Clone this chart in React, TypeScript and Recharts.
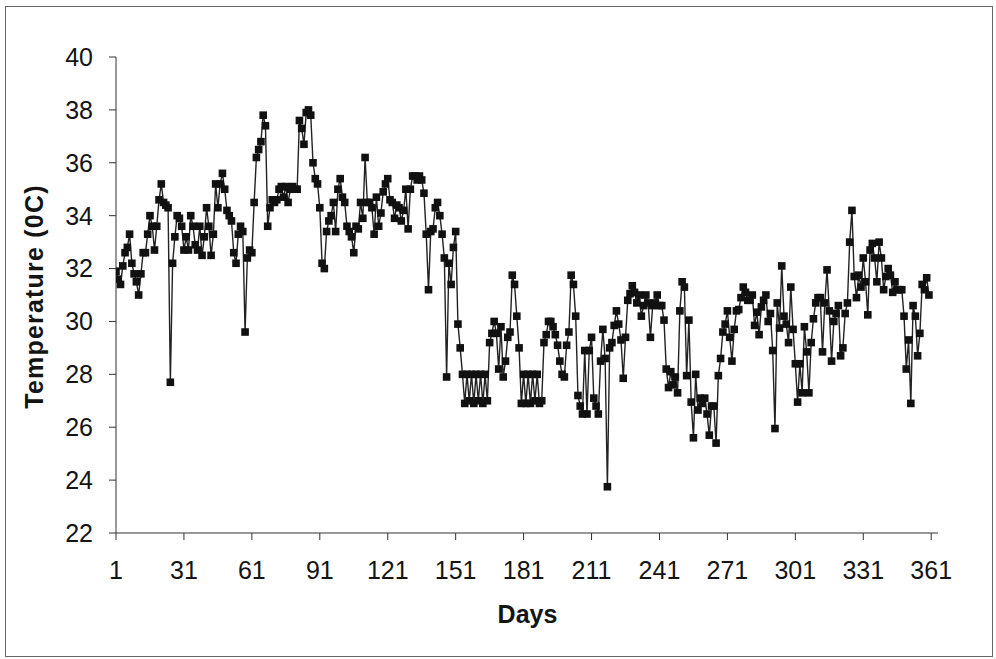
import { LineChart, Line, XAxis, YAxis } from 'recharts';

// daily temperature readings (0C), day 1 onwards
const temps = [
  31.9, 31.6, 31.4, 32.1, 32.6, 32.8, 33.3, 32.2, 31.8, 31.5,
  31.0, 31.8, 32.6, 32.6, 33.3, 34.0, 33.6, 32.7, 33.6, 34.6,
  35.2, 34.5, 34.4, 34.3, 27.7, 32.2, 33.2, 34.0, 33.9, 33.6,
  32.7, 33.2, 32.7, 34.0, 33.6, 32.9, 32.7, 33.6, 32.5, 33.2,
  34.3, 33.6, 32.5, 33.3, 35.2, 34.3, 35.2, 35.6, 35.0, 34.2,
  34.0, 33.8, 32.6, 32.2, 33.3, 33.6, 33.4, 29.6, 32.4, 32.7,
  32.6, 34.5, 36.2, 36.5, 36.8, 37.8, 37.4, 33.6, 34.3, 34.6,
  34.5, 34.6, 35.0, 35.1, 34.7, 35.1, 34.5, 35.0, 35.1, 35.0,
  35.0, 37.6, 37.3, 36.7, 37.9, 38.0, 37.8, 36.0, 35.4, 35.2,
  34.3, 32.2, 32.0, 33.4, 33.8, 34.0, 34.5, 33.4, 35.0, 35.4,
  34.7, 34.5, 33.6, 33.4, 33.2, 32.6, 33.6, 33.5, 34.5, 33.9,
  36.2, 34.5, 34.5, 34.3, 33.3, 34.7, 33.6, 34.1, 34.9, 35.2,
  35.4, 34.6, 34.5, 33.9, 34.4, 34.3, 33.8, 34.2, 35.0, 33.5,
  35.0, 35.5, 35.5, 35.35, 35.5, 35.35, 34.85, 33.3, 31.2, 33.4,
  33.5, 34.3, 34.5, 34.0, 33.3, 32.4, 27.9, 32.2, 31.4, 32.8,
  33.4, 29.9, 29.0, 28.0, 26.9, 28.0, 27.0, 28.0, 26.9, 28.0,
  27.0, 28.0, 26.9, 28.0, 27.0, 29.2, 29.55, 30.0, 29.55, 28.2,
  29.8, 27.9, 28.5, 29.4, 29.6, 31.75, 31.4, 30.2, 29.0, 26.9,
  28.0, 26.9, 28.0, 26.9, 28.0, 27.0, 28.0, 26.9, 27.0, 29.2,
  29.5, 30.0, 30.0, 29.8, 29.5, 29.1, 28.5, 28.0, 27.9, 29.1,
  29.6, 31.75, 31.4, 30.2, 27.2, 26.8, 26.5, 28.9, 26.5, 28.9,
  29.4, 27.1, 26.8, 26.5, 28.5, 29.7, 28.6, 23.75, 29.0, 29.2,
  29.85, 30.4, 29.9, 29.3, 27.85, 29.4, 30.8, 31.05, 31.35, 31.1,
  30.7, 31.0, 30.2, 30.6, 31.0, 30.7, 29.4, 30.6, 30.7, 31.0,
  30.6, 30.6, 30.05, 28.2, 27.5, 28.1, 27.6, 27.9, 27.3, 30.4,
  31.5, 31.3, 27.95, 30.05, 26.95, 25.6, 28.0, 26.65, 27.1, 26.9,
  27.1, 26.5, 25.7, 26.8, 26.8, 25.4, 27.95, 28.6, 29.6, 29.9,
  30.4, 29.4, 28.5, 29.7, 30.4, 30.45, 30.9, 31.3, 31.1, 30.8,
  30.8, 31.0, 29.85, 30.35, 29.5, 30.55, 30.8, 31.0, 30.0, 30.3,
  28.9, 25.95, 30.7, 29.75, 32.1, 30.2, 29.9, 29.2, 31.3, 29.7,
  28.4, 26.95, 28.4, 27.3, 29.8, 28.85, 27.3, 29.2, 30.1, 30.7,
  30.9, 30.9, 28.85, 30.7, 31.95, 30.4, 28.5, 30.0, 30.3, 30.6,
  28.7, 29.0, 30.3, 30.7, 33.0, 34.2, 31.7, 30.9, 31.75, 31.3,
  32.4, 31.5, 30.25, 32.7, 32.95, 32.4, 31.5, 33.0, 32.4, 31.2,
  31.7, 32.0, 31.75, 31.1, 31.5, 31.2, 31.2, 31.2, 30.2, 28.2,
  29.3, 26.9, 30.6, 30.2, 28.7, 29.55, 31.4, 31.2, 31.65, 31.0,
];

const days = temps.map((_, i) => i + 1);

const dayTicks = [1, 31, 61, 91, 121, 151, 181, 211, 241, 271, 301, 331, 361];
const tempTicks = [22, 24, 26, 28, 30, 32, 34, 36, 38, 40];

const data = days.map((d, i) => ({ day: d, temp: temps[i] }));

const font = 'Arial, "Liberation Sans", sans-serif';
const tickStyle = { fontSize: 25, fill: '#141414', fontFamily: font };

const SquareDot = (props: any) => {
  const { cx, cy } = props;
  if (cx == null || cy == null) return null;
  return <rect x={cx - 3.8} y={cy - 3.8} width={7.6} height={7.6} fill="#111" />;
};

export default function App() {
  return (
    <div style={{ position: 'absolute', left: 0, top: 0, width: 996, height: 659, background: '#fff' }}>
      <div
        style={{
          position: 'absolute',
          left: 5,
          top: 6,
          width: 986,
          height: 649,
          border: '1px solid #666',
        }}
      />
      <LineChart
        width={996}
        height={659}
        data={data}
        margin={{ top: 57, right: 58, bottom: 96, left: 0 }}
        style={{ position: 'absolute', left: 0, top: 0 }}
      >
        <XAxis
          dataKey="day"
          type="number"
          domain={[1, 364]}
          ticks={dayTicks}
          interval={0}
          height={30}
          tickSize={7}
          tickMargin={21}
          tick={tickStyle}
          axisLine={{ stroke: '#333' }}
          tickLine={{ stroke: '#333' }}
          allowDataOverflow
        />
        <YAxis
          type="number"
          domain={[22, 40]}
          ticks={tempTicks}
          interval={0}
          width={116}
          tickSize={7}
          tickMargin={16}
          tick={tickStyle}
          axisLine={{ stroke: '#333' }}
          tickLine={{ stroke: '#333' }}
          allowDataOverflow
        />
        <Line
          type="linear"
          dataKey="temp"
          stroke="#222"
          strokeWidth={1.4}
          dot={<SquareDot />}
          activeDot={false}
          isAnimationActive={false}
        />
      </LineChart>
      <div
        style={{
          position: 'absolute',
          left: 427.5,
          top: 602,
          width: 200,
          textAlign: 'center',
          fontFamily: font,
          fontWeight: 'bold',
          fontSize: 25,
          lineHeight: '25px',
          color: '#141414',
        }}
      >
        Days
      </div>
      <div
        style={{
          position: 'absolute',
          left: 34 - 150,
          top: 296 - 12.5,
          width: 300,
          height: 25,
          textAlign: 'center',
          fontFamily: font,
          fontWeight: 'bold',
          fontSize: 25,
          lineHeight: '25px',
          letterSpacing: 1.2,
          color: '#141414',
          transform: 'rotate(-90deg)',
          whiteSpace: 'nowrap',
        }}
      >
        Temperature (0C)
      </div>
    </div>
  );
}
